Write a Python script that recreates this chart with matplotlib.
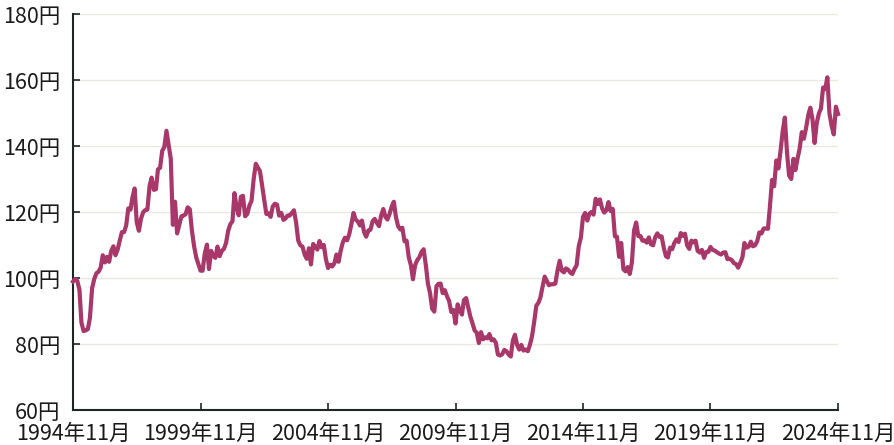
import pandas as pd
import matplotlib
matplotlib.use("Agg")
import matplotlib.pyplot as plt

# USD/JPY month-end, 1994-11 .. 2024-11
start_month = "1994-11-01"
usdjpy = [
    99.0, 99.8,
    99.2, 96.5, 86.6, 84.0, 84.2, 84.6, 88.0, 97.0, 99.8, 101.5, 102.0, 103.2,
    107.0, 104.8, 106.5, 105.0, 108.3, 109.7, 107.0, 108.7, 111.5, 114.0, 114.0, 116.0,
    121.2, 120.8, 124.5, 127.2, 117.0, 114.4, 118.0, 120.0, 120.7, 120.8, 128.0, 130.5,
    126.8, 127.0, 133.0, 133.5, 138.6, 139.8, 144.7, 140.5, 136.2, 116.2, 123.2, 113.6,
    116.2, 118.8, 119.0, 119.4, 121.5, 120.9, 114.4, 109.7, 106.3, 104.3, 102.3, 102.3,
    107.5, 110.2, 102.8, 108.3, 106.8, 106.2, 109.6, 106.7, 108.3, 108.9, 110.7, 114.4,
    116.4, 117.3, 125.8, 121.5, 119.1, 124.7, 125.0, 118.8, 119.5, 122.0, 123.5, 130.0,
    134.7, 133.5, 132.5, 128.2, 123.8, 119.5, 119.7, 118.6, 121.8, 122.6, 122.3, 119.0,
    119.8, 117.7, 118.1, 119.0, 119.0, 119.8, 120.6, 116.9, 111.4, 110.0, 109.6, 107.2,
    105.9, 109.1, 104.2, 110.4, 109.6, 108.7, 111.3, 109.4, 110.1, 105.8, 103.1, 104.1,
    103.6, 104.6, 107.2, 105.0, 108.4, 110.9, 112.3, 111.5, 113.4, 116.4, 119.8, 117.8,
    117.2, 116.0, 117.5, 114.0, 112.6, 114.5, 114.7, 117.3, 118.0, 116.8, 115.8, 119.0,
    121.0, 118.6, 117.8, 119.5, 121.7, 123.2, 118.6, 115.8, 114.8, 115.3, 111.2, 111.4,
    106.4, 103.9, 99.7, 104.0, 105.5, 106.4, 108.0, 108.8, 104.1, 98.4, 95.5, 90.8,
    89.9, 97.6, 98.3, 98.4, 95.5, 96.4, 94.6, 93.1, 89.8, 90.4, 86.3, 92.1,
    90.3, 89.0, 93.4, 94.0, 91.2, 88.4, 86.4, 84.2, 83.5, 80.4, 83.7, 81.5,
    82.1, 81.8, 83.1, 81.2, 81.5, 80.5, 76.9, 76.6, 77.0, 78.3, 77.9, 76.9,
    76.3, 81.2, 82.9, 79.8, 78.4, 79.8, 78.1, 78.4, 77.9, 79.8, 82.5, 86.7,
    91.7, 92.6, 94.2, 97.5, 100.5, 99.2, 97.9, 98.2, 98.2, 98.4, 102.4, 105.3,
    102.3, 101.8, 103.0, 102.6, 101.8, 101.3, 102.8, 103.9, 109.7, 112.3, 118.6, 119.8,
    117.5, 119.6, 120.1, 119.3, 124.1, 122.5, 123.9, 121.2, 119.9, 120.6, 123.1, 120.4,
    121.0, 112.7, 112.6, 106.5, 110.7, 102.8, 102.1, 103.4, 101.3, 104.8, 114.5, 116.9,
    112.8, 112.8, 111.4, 111.5, 110.8, 112.4, 110.3, 110.0, 112.5, 113.6, 112.5, 112.7,
    109.2, 106.7, 106.3, 109.3, 108.8, 110.7, 111.8, 111.0, 113.7, 112.9, 113.5, 110.0,
    108.9, 111.4, 110.9, 111.4, 108.3, 107.8, 108.6, 106.2, 108.0, 108.0, 109.5, 108.6,
    108.4, 107.9, 107.5, 107.2, 107.8, 107.9, 105.8, 105.9, 105.5, 104.6, 104.3, 103.2,
    104.7, 106.4, 110.7, 109.3, 109.6, 111.1, 109.7, 110.0, 111.3, 113.9, 113.6, 115.1,
    115.1, 115.0, 121.7, 129.8, 127.9, 135.7, 133.3, 138.7, 144.7, 148.7, 138.1, 131.1,
    130.1, 136.2, 132.8, 136.3, 139.3, 144.3, 142.3, 145.5, 149.4, 151.7, 148.2, 141.0,
    147.0, 150.0, 151.4, 157.8, 157.3, 160.9, 150.0, 146.2, 143.6, 152.0, 149.8,
]
tick_labels = ["1994年11月", "1999年11月", "2004年11月", "2009年11月",
               "2014年11月", "2019年11月", "2024年11月"]
y_ticks = [60, 80, 100, 120, 140, 160, 180]

plt.rcParams['font.family'] = ['Noto Sans CJK JP', 'DejaVu Sans']

dates = pd.date_range(start_month, periods=len(usdjpy), freq="MS")

fig = plt.figure(figsize=(8.94, 4.45), dpi=100)
ax = fig.add_axes([0.0817, 0.078, 0.8557, 0.8899])

ax.plot(dates, usdjpy, color="#a8376a", lw=3, solid_joinstyle="round",
        clip_on=False, zorder=3)

ax.set_xlim(dates[0], dates[-1])
ax.set_ylim(60, 180)
ax.set_yticks(y_ticks)
ax.set_yticklabels([f"{v}円" for v in y_ticks])
ax.set_xticks(dates[::60])
ax.set_xticklabels(tick_labels)

ax.grid(axis="y", color="#e8e8e0", lw=1)
ax.set_axisbelow(True)
for s in ["top", "right"]:
    ax.spines[s].set_visible(False)
for s in ["left", "bottom"]:
    ax.spines[s].set_color("#1e2626")
    ax.spines[s].set_linewidth(1.5)
ax.tick_params(axis="both", direction="in", length=5, width=1.2,
               color="#1e2626", labelsize=15.5, labelcolor="#1a1a1a")
ax.tick_params(axis="y", pad=9)
ax.tick_params(axis="x", pad=9)

fig.savefig("out.png", dpi=100)
